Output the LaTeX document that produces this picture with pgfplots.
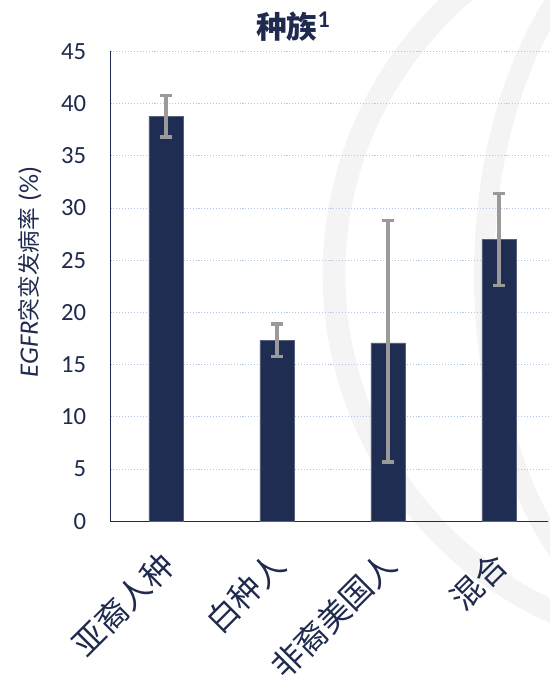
\documentclass[border=0pt]{standalone}
\usepackage{fontspec}
\setmainfont{Carlito}
\newfontfamily\cjk{Noto Sans CJK SC}
\usepackage{pgfplots}
\pgfplotsset{compat=1.18}
\usepackage{pgfplotstable}

\definecolor{navy}{HTML}{1F2D52}
\definecolor{txt}{HTML}{1F2A4E}
\definecolor{errgray}{HTML}{9A9A9A}
\definecolor{gridblue}{HTML}{B4C7E7}
\definecolor{globe}{HTML}{F4F4F4}

% rate, upper and lower error
\pgfplotstableread{
x y ep em
0 38.8 2.0 2.0
1 17.3 1.6 1.5
2 17.1 11.7 11.4
3 27.0 4.4 4.4
}\datatable

\begin{document}
\begin{tikzpicture}[x=0.75pt,y=0.75pt]
\path[use as bounding box] (0,0) rectangle (550,677);

% faint globe in the background
\begin{scope}
  \clip (0,0) rectangle (550,677);
  \draw[globe, line width=17pt] (704,403) circle [radius=370];
  \draw[globe, line width=15pt] (704,403) ellipse [x radius=220, y radius=370];
\end{scope}

\begin{axis}[
  at={(99.5,149)}, anchor=south west,
  scale only axis, width=328.5pt, height=352.5pt,
  xmin=-0.5, xmax=3.446, ymin=0, ymax=45,
  xtick={0,1,2,3},
  xticklabels={亚裔人种,白种人,非裔美国人,混合},
  ytick={0,5,...,45},
  axis x line*=bottom, axis y line*=left,
  axis line style={-, txt, line width=0.9pt},
  major tick length=0pt,
  ymajorgrids,
  grid style={gridblue, dash pattern=on 0.8pt off 1.4pt, line width=0.8pt},
  /pgf/number format/assume math mode=true,
  yticklabel style={font=\fontsize{18.5}{18.5}\selectfont, text=txt, anchor=east, inner sep=0pt, xshift=-18pt},
  xticklabel style={font=\cjk\fontsize{24}{24}\selectfont, text=txt, xshift=-6pt, yshift=-20pt, rotate=45, anchor=north east, inner sep=0pt},
]
\addplot[ybar, bar width=25.5pt, fill=navy, draw=navy!75!white, line width=0.4pt,
  error bars/.cd, y dir=both, y explicit,
  error bar style={errgray, line width=3pt},
  error mark options={errgray, rotate=90, mark size=4.6pt, line width=2.6pt}]
  table[x=x, y=y, y error plus=ep, y error minus=em]{\datatable};
\end{axis}

\node[text=txt, font=\cjk\bfseries\fontsize{23}{23}\selectfont] at (293,650)
  {种族\raisebox{0.36em}{\rmfamily\bfseries\fontsize{18}{18}\selectfont 1}};
\node[rotate=90, text=txt] at (30,405)
  {\fontsize{20}{20}\selectfont\textit{EGFR}{\cjk\fontsize{17}{17}\selectfont 突变发病率} (\%)};
\end{tikzpicture}
\end{document}
